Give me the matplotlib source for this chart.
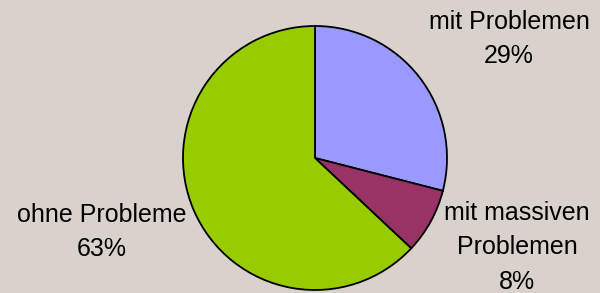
import matplotlib.pyplot as plt

# data
labels = ["mit Problemen", "mit massiven\nProblemen", "ohne Probleme"]
shares = [29, 8, 63]
colors = ["#9999FF", "#993366", "#99CC00"]

plt.rcParams['font.family'] = ['Liberation Sans', 'DejaVu Sans']

fig = plt.figure(figsize=(6, 2.93), dpi=100)
bg = "#D9D2CC"
fig.patch.set_facecolor(bg)
ax = fig.add_axes([0, 0, 1, 1])
ax.set_facecolor(bg)

# pie centred at (315, 158) px with radius 132 px
r_px = 132.0

ax.pie(shares, colors=colors, startangle=90, counterclock=False,
       radius=1.0, frame=True,
       wedgeprops=dict(edgecolor='black', linewidth=1.3))
ax.set_xlim(-315 / r_px, 285 / r_px)
ax.set_ylim((158 - 293) / r_px, 158 / r_px)
ax.set_aspect('auto')
ax.axis('off')

# label positions in pixels (x centre, top of first line)
label_pos = [(509, 10), (517, 201), (102, 203)]
for lab, val, (px, py) in zip(labels, shares, label_pos):
    txt = f"{lab}\n{val}%"
    ax.text((px - 315) / r_px, (158 - py) / r_px, txt,
            ha='center', va='top', fontsize=18, linespacing=1.55,
            color='black',
            transform=ax.transData)

fig.savefig("out.png", dpi=100, facecolor=bg)
